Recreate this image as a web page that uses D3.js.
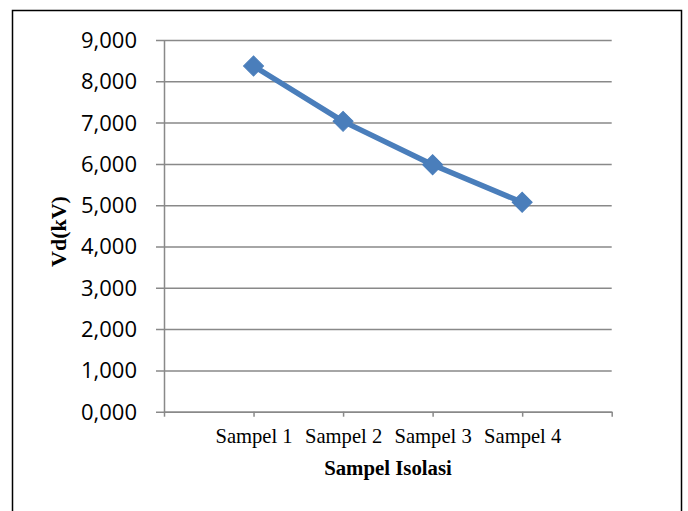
<!DOCTYPE html>
<html>
<head>
<meta charset="utf-8">
<script src="https://cdn.jsdelivr.net/npm/d3@7"></script>
<style>
  html, body { margin: 0; padding: 0; background: #fff; }
  svg { display: block; }
</style>
</head>
<body>
<script>
// chart data
const categories = ['Sampel 1', 'Sampel 2', 'Sampel 3', 'Sampel 4'];
const vdValues = [8.37, 7.03, 5.98, 5.07];
const yTicks = [0, 1, 2, 3, 4, 5, 6, 7, 8, 9];

const W = 688, H = 511;
const plot = { left: 164, right: 611.7, top: 40, bottom: 411.7 };
const gridColor = '#898989';
const lineColor = '#4a7ebb';

const svg = d3.select('body').append('svg')
  .attr('width', W).attr('height', H)
  .attr('viewBox', `0 0 ${W} ${H}`);

svg.append('rect').attr('width', W).attr('height', H).attr('fill', '#fff');

// outer frame (bottom edge runs off the picture)
svg.append('rect')
  .attr('x', 12.5).attr('y', 10.5)
  .attr('width', 669).attr('height', 520)
  .attr('fill', 'none').attr('stroke', '#000').attr('stroke-width', 1.5);

const x = d3.scaleLinear().domain([0, categories.length + 1]).range([plot.left, plot.right]);
const y = d3.scaleLinear().domain([0, 9]).range([plot.bottom, plot.top]);

const fmt = v => d3.format('.3f')(v).replace('.', ',');

// y axis + gridlines
const yAxis = svg.append('g')
  .attr('transform', `translate(${plot.left},0)`)
  .call(d3.axisLeft(y).tickValues(yTicks).tickFormat(fmt)
    .tickSizeInner(-(plot.right - plot.left)).tickSizeOuter(0).tickPadding(0));
yAxis.select('.domain').attr('stroke', gridColor).attr('stroke-width', 1.5);
yAxis.selectAll('.tick line')
  .attr('x1', -8)
  .attr('stroke', gridColor).attr('stroke-width', 1.5);
yAxis.selectAll('.tick text')
  .attr('x', -27)
  .attr('font-family', '"Open Sans", "Liberation Sans", sans-serif')
  .attr('font-size', 22)
  .attr('fill', '#000')
  .attr('dy', '0.34em');

// x axis
const xTickVals = d3.range(0, categories.length + 2);
const xAxis = svg.append('g')
  .attr('transform', `translate(0,${plot.bottom})`)
  .call(d3.axisBottom(x).tickValues(xTickVals)
    .tickFormat(d => categories[d - 1] || '')
    .tickSizeInner(5).tickSizeOuter(0).tickPadding(0));
xAxis.select('.domain').attr('stroke', gridColor).attr('stroke-width', 1.5);
xAxis.selectAll('.tick line').attr('stroke', gridColor).attr('stroke-width', 1.5);
xAxis.selectAll('.tick text')
  .attr('y', 31).attr('dy', 0)
  .attr('font-family', '"Liberation Serif", "Times New Roman", serif')
  .attr('font-size', 20.6)
  .attr('fill', '#000');

// axis titles
svg.append('text')
  .attr('x', 388).attr('y', 475)
  .attr('text-anchor', 'middle')
  .attr('font-family', '"Liberation Serif", "Times New Roman", serif')
  .attr('font-weight', 'bold').attr('font-size', 20.8)
  .text('Sampel Isolasi');

svg.append('text')
  .attr('transform', 'translate(66,231.5) rotate(-90)')
  .attr('text-anchor', 'middle')
  .attr('font-family', '"Liberation Serif", "Times New Roman", serif')
  .attr('font-weight', 'bold').attr('font-size', 22)
  .text('Vd(kV)');

// series line
const line = d3.line()
  .x((d, i) => x(i + 1))
  .y(d => y(d));

svg.append('path')
  .datum(vdValues)
  .attr('d', line)
  .attr('fill', 'none')
  .attr('stroke', lineColor)
  .attr('stroke-width', 5.5)
  .attr('stroke-linejoin', 'round');

// diamond markers
const diamond = d3.symbol().type(d3.symbolSquare).size(200);
svg.append('g').selectAll('path')
  .data(vdValues)
  .join('path')
  .attr('d', diamond)
  .attr('transform', (d, i) => `translate(${x(i + 1)},${y(d)}) rotate(45)`)
  .attr('fill', lineColor)
  .attr('stroke', lineColor)
  .attr('stroke-width', 1);
</script>
</body>
</html>
